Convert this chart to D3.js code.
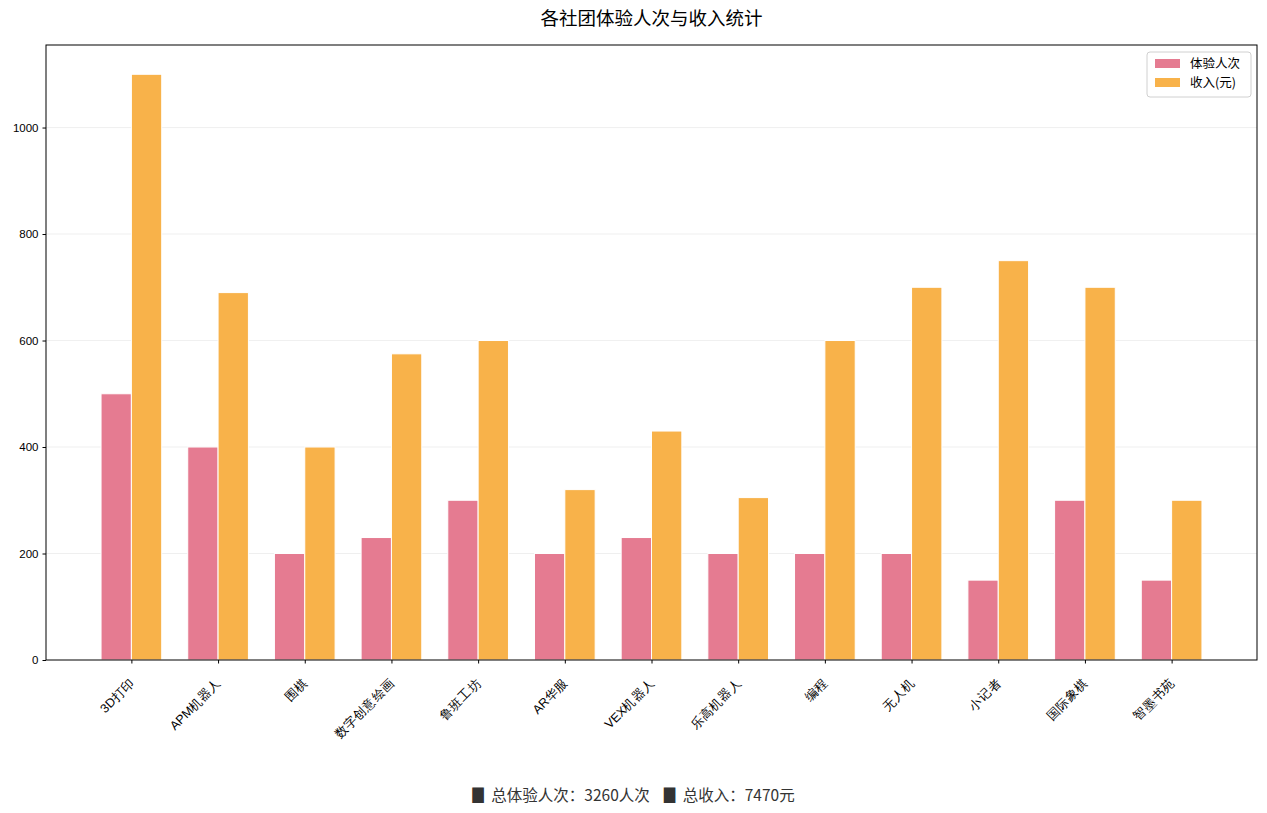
<!DOCTYPE html>
<html>
<head>
<meta charset="utf-8">
<script src="https://cdn.jsdelivr.net/npm/d3@7"></script>
<style>
  body { margin: 0; background: #fff; }
  svg { display: block; font-family: "Noto Sans CJK SC", "DejaVu Sans", sans-serif; }
</style>
</head>
<body>
<svg id="chart" width="1267" height="813"></svg>
<script>
const categories = ["3D打印", "APM机器人", "围棋", "数字创意绘画", "鲁班工坊", "AR华服", "VEX机器人", "乐高机器人", "编程", "无人机", "小记者", "国际象棋", "智墨书苑"];
const visitors = [500, 400, 200, 230, 300, 200, 230, 200, 200, 200, 150, 300, 150];
const income = [1100, 690, 400, 575, 600, 320, 430, 305, 600, 700, 750, 700, 300];
const yTicks = [0, 200, 400, 600, 800, 1000];
const seriesNames = ["体验人次", "收入(元)"];
const title = "各社团体验人次与收入统计";

const colors = ["#e57b91", "#f8b24a"];
const W = 1267, H = 813;
const m = { left: 46, right: 1257, top: 45, bottom: 660 };
const svg = d3.select("#chart");

const barW = 0.35;
const n = categories.length;
const xMinData = -barW, xMaxData = (n - 1) + barW;
const xPad = (xMaxData - xMinData) * 0.05;
const x = d3.scaleLinear().domain([xMinData - xPad, xMaxData + xPad]).range([m.left, m.right]);
const yMax = d3.max(income.concat(visitors)) * 1.05;
const y = d3.scaleLinear().domain([0, yMax]).range([m.bottom, m.top]);

// grid
svg.append("g").selectAll("line").data(yTicks.filter(d => d > 0)).join("line")
  .attr("x1", m.left).attr("x2", m.right)
  .attr("y1", d => y(d)).attr("y2", d => y(d))
  .attr("stroke", "#ebebeb").attr("stroke-width", 0.8);

// bars
const series = [visitors, income];
series.forEach((vals, s) => {
  svg.append("g").selectAll("rect").data(vals).join("rect")
    .attr("x", (d, i) => x(i + (s === 0 ? -barW : 0)))
    .attr("y", d => y(d))
    .attr("width", x(barW) - x(0))
    .attr("height", d => y(0) - y(d))
    .attr("fill", colors[s])
    .attr("stroke", "#fff").attr("stroke-width", 1);
});

// axes
const xAxis = d3.axisBottom(x).tickValues(d3.range(n)).tickFormat(i => categories[i]).tickSize(3.5).tickSizeOuter(0);
const gx = svg.append("g").attr("transform", `translate(0,${m.bottom})`).call(xAxis);
gx.select(".domain").remove();
gx.selectAll("text")
  .attr("font-size", 12.5).attr("fill", "#000")
  .attr("text-anchor", "end")
  .attr("x", 0).attr("y", 0).attr("dy", "0.8em")
  .attr("transform", "translate(-4,17) rotate(-45)");
gx.selectAll(".tick line").attr("stroke", "#000");

const yAxis = d3.axisLeft(y).tickValues(yTicks).tickFormat(d3.format("d")).tickSize(3.5).tickSizeOuter(0).tickPadding(4);
const gy = svg.append("g").attr("transform", `translate(${m.left},0)`).call(yAxis);
gy.select(".domain").remove();
gy.selectAll("text").attr("font-size", 11.5).attr("fill", "#000");
gy.selectAll(".tick line").attr("stroke", "#000");

// frame
svg.append("rect").attr("x", m.left).attr("y", m.top)
  .attr("width", m.right - m.left).attr("height", m.bottom - m.top)
  .attr("fill", "none").attr("stroke", "#000").attr("stroke-width", 1);

// title
svg.append("text").attr("x", (m.left + m.right) / 2).attr("y", 25)
  .attr("text-anchor", "middle").attr("font-size", 18.5).attr("fill", "#000")
  .text(title);

// legend
const lg = svg.append("g").attr("transform", "translate(1147,52)");
lg.append("rect").attr("width", 104).attr("height", 45).attr("rx", 3)
  .attr("fill", "#fff").attr("fill-opacity", 0.8).attr("stroke", "#d0d0d0");
seriesNames.forEach((name, i) => {
  lg.append("rect").attr("x", 8).attr("y", 7 + i * 19).attr("width", 25).attr("height", 9).attr("fill", colors[i]);
  lg.append("text").attr("x", 43).attr("y", 16 + i * 19).attr("font-size", 12.5).attr("fill", "#000").text(name);
});

// footer
const totalV = d3.sum(visitors), totalI = d3.sum(income);
const ft = svg.append("text").attr("x", W / 2).attr("y", 801).attr("text-anchor", "middle")
  .attr("font-size", 15.5).attr("fill", "#333");
ft.append("tspan").text(`▊ 总体验人次：${totalV}人次`);
ft.append("tspan").attr("dx", 14).text(`▊ 总收入：${totalI}元`);
</script>
</body>
</html>
